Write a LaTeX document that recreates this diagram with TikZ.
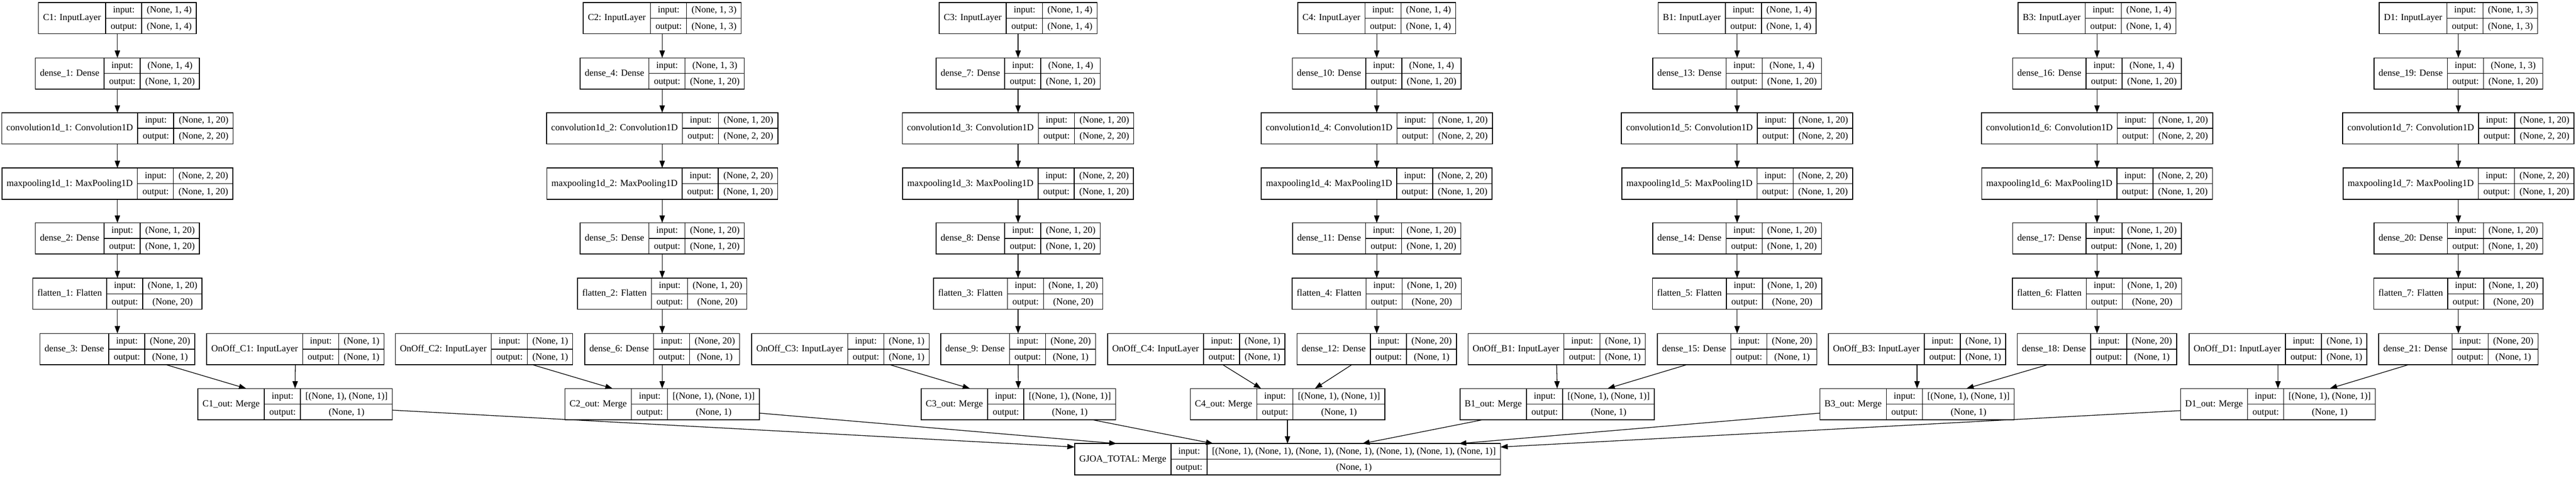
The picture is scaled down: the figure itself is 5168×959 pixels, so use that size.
\documentclass[tikz,border=0pt]{standalone}
\usepackage{fontspec}
\setmainfont{Liberation Serif}
\usepackage{tikz}
\usetikzlibrary{calc,arrows.meta}

\setlength\arrayrulewidth{1.2pt}
\setlength\tabcolsep{0pt}
\newcommand\lfont{\fontsize{14}{16.8}\selectfont}
\newcommand\rowstrut{\rule[-7.45pt]{0pt}{22.9pt}}
\newcommand\padcol{@{\hspace{7pt}}c@{\hspace{7pt}}}
\newcommand\layerbox[6]{%
  \node[recbox] (#1) at (#2,#3) {\begin{tabular}{\padcol|@{}c@{}|@{}c@{}}
    #4 &
    \begin{tabular}{\padcol}\rowstrut input:\\\hline\rowstrut output:\end{tabular} &
    \begin{tabular}{\padcol}\rowstrut #5\\\hline\rowstrut #6\end{tabular}
  \end{tabular}};%
}

\begin{document}
\begin{tikzpicture}[x=0.75pt, y=-0.75pt]
        \tikzset{recbox/.style={draw, line width=1.2pt, inner sep=0pt, outer sep=0pt, font=\lfont}}
        \tikzset{conn/.style={line width=1pt, -{Triangle[length=11pt, width=8pt]}}}

        \useasboundingbox (0,0) rectangle (5168,959);

        \foreach \c/\cx/\ox/\mx/\n/\k/\s/\dt/\dh/\ot/\oh in {
            C1/235.5/592.5/592/1/1/4/97.5/-98/0/0,
            C2/1328.5/971/1328.5/2/4/3/0/0/97/-99.5,
            C3/2042.5/1686/2043/3/7/4/0/0/99/-97,
            C4/2762/2400/2583/4/10/4/-50/55/53/-53,
            B1/3485/3123/3124/5/13/4/-101/101/0/0,
            B3/4207/3846/3846/6/16/4/-99/99/0/0,
            D1/4932/4570/4570/7/19/3/-100/104/0/0} {
            \pgfmathtruncatemacro\kb{\k+1}
            \pgfmathtruncatemacro\kc{\k+2}
            \layerbox{in\n}{\cx}{36.5}{\c: InputLayer}{(None, 1, \s)}{(None, 1, \s)}
            \layerbox{dA\n}{\cx}{147.5}{dense\_\k: Dense}{(None, 1, \s)}{(None, 1, 20)}
            \layerbox{cv\n}{\cx}{257.5}{convolution1d\_\n: Convolution1D}{(None, 1, 20)}{(None, 2, 20)}
            \layerbox{mp\n}{\cx}{368.5}{maxpooling1d\_\n: MaxPooling1D}{(None, 2, 20)}{(None, 1, 20)}
            \layerbox{dB\n}{\cx}{478.5}{dense\_\kb: Dense}{(None, 1, 20)}{(None, 1, 20)}
            \layerbox{fl\n}{\cx}{589.5}{flatten\_\n: Flatten}{(None, 1, 20)}{(None, 20)}
            \layerbox{dC\n}{\cx}{700.5}{dense\_\kc: Dense}{(None, 20)}{(None, 1)}
            \layerbox{on\n}{\ox}{700.5}{OnOff\_\c: InputLayer}{(None, 1)}{(None, 1)}
            \layerbox{out\n}{\mx}{811}{\c\_out: Merge}{[(None, 1), (None, 1)]}{(None, 1)}

            \draw[conn] (in\n) -- (dA\n);
            \draw[conn] (dA\n) -- (cv\n);
            \draw[conn] (cv\n) -- (mp\n);
            \draw[conn] (mp\n) -- (dB\n);
            \draw[conn] (dB\n) -- (fl\n);
            \draw[conn] (fl\n) -- (dC\n);
            \draw[conn] ($(dC\n.south)+(\dt,0)$) -- ($(out\n.north)+(\dh,0)$);
            \draw[conn] ($(on\n.south)+(\ot,0)$) -- ($(out\n.north)+(\oh,0)$);
        }

        \layerbox{total}{2583}{921.5}{GJOA\_TOTAL: Merge}{[(None, 1), (None, 1), (None, 1), (None, 1), (None, 1), (None, 1), (None, 1)]}{(None, 1)}

        \draw[conn] ($(out1.east)+(0,12)$) -- ($(total.west)+(0,-24.5)$);
        \draw[conn] ($(out2.east)+(0,18)$) -- ($(total.north)+(-343,0)$);
        \draw[conn] ($(out3.south)+(148,0)$) -- ($(total.north)+(-149,0)$);
        \draw[conn] (out4) -- (total);
        \draw[conn] ($(out5.south)+(-149,0)$) -- ($(total.north)+(150,0)$);
        \draw[conn] ($(out6.west)+(0,18)$) -- ($(total.north)+(344,0)$);
        \draw[conn] ($(out7.west)+(0,13)$) -- ($(total.east)+(0,-24.5)$);
    \end{tikzpicture}
\end{document}
